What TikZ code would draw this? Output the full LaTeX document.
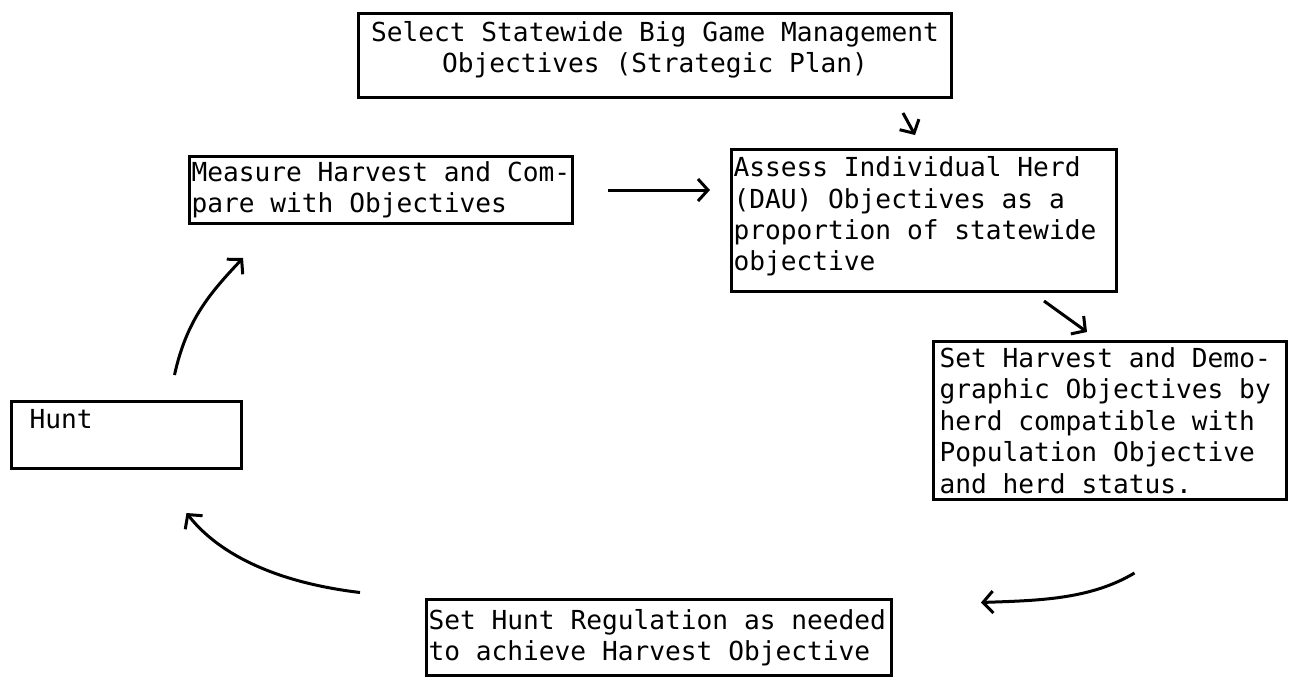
\documentclass[tikz,border=0pt]{standalone}
\usepackage{fontspec}
\setmonofont{DejaVu Sans Mono}
\usetikzlibrary{arrows.meta,calc}
\tikzstyle{stepBox}=[draw, line width = 1.5pt, anchor = north west, inner xsep = 1pt, inner ysep = 1pt, align = left, font = \ttfamily\fontsize{13.1}{15.7}\selectfont, execute at begin node = {\spaceskip=7.9pt\relax}]
\tikzstyle{flowArrow}=[line width = 1.5pt, -{Straight Barb[length=5pt, width=11pt]}]

\begin{document}
\begin{tikzpicture}[x = 0.5pt, y = -0.5pt]
\useasboundingbox (0,0) rectangle (1292,676);
\node[stepBox, align = center, text width = 294.5pt, minimum height = 42pt] (sel) at (357,12) {Select Statewide Big Game Management\\Objectives (Strategic Plan)\\[-7pt]\mbox{}};
\node[stepBox, text width = 189.5pt, minimum height = 33.5pt] (meas) at (188,155) {Measure Harvest and Com-\\pare with Objectives};
\node[stepBox, text width = 190.5pt, minimum height = 71pt] (dau) at (730,148) {Assess Individual Herd\\(DAU) Objectives as a\\proportion of statewide\\objective\\[-9pt]\mbox{}};
\node[stepBox, inner xsep = 3pt, text width = 170.5pt, minimum height = 79pt] (harv) at (932,340) {Set Harvest and Demo-\\graphic Objectives by\\herd compatible with\\Population Objective\\and herd status.};
\node[stepBox, inner xsep = 9pt, text width = 97pt, minimum height = 33.5pt] (hunt) at (10,400) {Hunt\\\mbox{}};
\node[stepBox, text width = 230.5pt, minimum height = 38pt] (reg) at (425,598) {Set Hunt Regulation as needed\\to achieve Harvest Objective};
% connectors
\draw[flowArrow] ($(sel.south east)+(-50,14)$) -- ($(dau.north west)+(185,-13)$);
\draw[flowArrow, shorten <= 17pt, shorten >= 10pt] (meas.east) -- (meas.east -| dau.west);
\draw[flowArrow] ($(dau.south east)+(-74,8)$) -- ($(harv.north east)+(-201,-8)$);
\draw[flowArrow] ($(harv.south)+(24.5,72)$) .. controls +(-45,27) and +(55,-2) .. ($(reg.east)+(88,-35)$);
\draw[flowArrow] ($(reg.west)+(-65,-45)$) .. controls +(-100,-12) and +(25,32) .. ($(hunt.south)+(60,43)$);
\draw[flowArrow] ($(hunt.north)+(48,-25)$) .. controls +(12,-55) and +(-33,35) .. ($(meas.south west)+(55,33)$);
\end{tikzpicture}
\end{document}
